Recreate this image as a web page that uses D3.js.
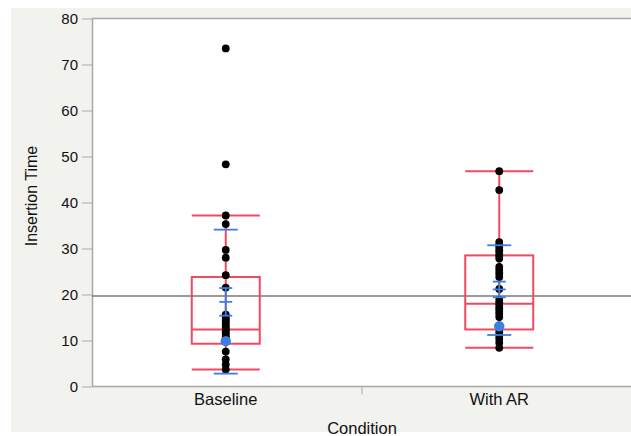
<!DOCTYPE html>
<html>
<head>
<meta charset="utf-8">
<script src="https://d3js.org/d3.v7.min.js"></script>
<style>
  body { margin: 0; background: #fff; }
  text { font-family: "Liberation Sans", Arial, sans-serif; fill: #111; }
</style>
</head>
<body>
<svg id="chart" width="631" height="436"></svg>
<script>
// categories
var conditions = ["Baseline", "With AR"];

// raw points (black dots)
var baselinePts = [73.5, 48.3, 37.2, 35.3, 29.7, 28.0, 24.2, 21.5, 15.6, 15.1, 14.7, 14.3, 13.9,
  13.4, 13.0, 12.6, 12.2, 11.8, 11.4, 11.0, 10.6, 10.2, 7.6, 5.9, 4.8, 3.7];
var withARPts = [46.8, 42.7, 31.4, 30.8, 30.2, 29.6, 29.0, 28.4, 27.8, 26.0, 25.3, 24.6, 23.8,
  21.2, 18.8, 18.2, 17.6, 17.0, 16.4, 15.8, 15.1, 11.8, 11.0, 10.3, 9.5, 8.4];
// highlighted (blue) points
var highlightPts = [9.85, 13.1];

// box plot summaries: [whisker lo, q1, median, q3, whisker hi]
var boxStats = [[3.7, 9.3, 12.4, 23.8, 37.2], [8.4, 12.4, 18.0, 28.5, 46.8]];
// mean, std error bounds, std dev bounds
var means = [18.4, 21.1];
var seLo = [15.4, 19.4];
var seHi = [21.4, 22.8];
var sdLo = [2.8, 11.2];
var sdHi = [34.1, 30.7];
var grandMean = 19.7;

var yTicks = [0, 10, 20, 30, 40, 50, 60, 70, 80];

var svg = d3.select("#chart");
// note: "top" clashes with window.top, so plot edges get their own names
var plotLeft = 92, plotTop = 18.5, plotBottom = 386.5, plotRight = 631;

var y = d3.scaleLinear().domain([0, 80]).range([plotBottom, plotTop]);
var x = d3.scalePoint().domain(conditions).range([89, 636]).padding(0.5);

var red = "#ee4a60", blue = "#3b7fe0";

// panel background
svg.append("rect").attr("x", 11).attr("y", 8).attr("width", 620).attr("height", 424).attr("fill", "#f2f2ee");
svg.append("rect").attr("x", plotLeft).attr("y", plotTop)
  .attr("width", plotRight - plotLeft).attr("height", plotBottom - plotTop).attr("fill", "#fff");

// frame top / bottom
svg.append("line").attr("x1", plotLeft).attr("x2", plotRight).attr("y1", plotTop).attr("y2", plotTop)
  .attr("stroke", "#a8a8a8").attr("stroke-width", 1.5);
svg.append("line").attr("x1", plotLeft).attr("x2", plotRight).attr("y1", plotBottom).attr("y2", plotBottom)
  .attr("stroke", "#a8a8a8").attr("stroke-width", 1.5);

// y axis
var yAxis = svg.append("g").attr("transform", "translate(" + plotLeft + ",0)")
  .call(d3.axisLeft(y).tickValues(yTicks).tickSize(10).tickSizeOuter(0).tickPadding(4));
yAxis.select(".domain").attr("stroke", "#a8a8a8").attr("stroke-width", 1.5);
yAxis.selectAll(".tick line").attr("stroke", "#a8a8a8");
yAxis.selectAll(".tick text").style("font-size", "15px").attr("fill", "#111")
  .style("font-family", "'Liberation Sans', Arial, sans-serif");

// x divider tick between categories
svg.append("line").attr("x1", 362).attr("x2", 362).attr("y1", plotBottom).attr("y2", plotBottom + 8)
  .attr("stroke", "#a8a8a8");

// x labels
svg.selectAll(".xlab").data(conditions).enter().append("text")
  .attr("class", "xlab")
  .attr("x", function(d){ return x(d); })
  .attr("y", 405)
  .attr("text-anchor", "middle")
  .style("font-size", "16.5px")
  .text(function(d){ return d; });

svg.append("text").attr("x", 362).attr("y", 434).attr("text-anchor", "middle")
  .style("font-size", "16.5px").text("Condition");

svg.append("text")
  .attr("transform", "translate(37,196) rotate(-90)")
  .attr("text-anchor", "middle")
  .style("font-size", "16px")
  .text("Insertion Time");

// grand mean line
svg.append("line").attr("x1", plotLeft).attr("x2", plotRight)
  .attr("y1", y(grandMean)).attr("y2", y(grandMean))
  .attr("stroke", "#7a7a7a").attr("stroke-width", 1.5);

var boxW = 68, capW = 68, sdW = 24, seW = 13;

// box plots
var box = svg.selectAll(".box").data(conditions).enter().append("g").attr("class", "box");
box.each(function(d, i){
  var g = d3.select(this), cx = x(d), s = boxStats[i];
  g.append("line").attr("x1", cx).attr("x2", cx).attr("y1", y(s[0])).attr("y2", y(s[4]))
    .attr("stroke", red).attr("stroke-width", 2);
  g.append("rect").attr("x", cx - boxW / 2).attr("y", y(s[3]))
    .attr("width", boxW).attr("height", y(s[1]) - y(s[3]))
    .attr("fill", "none").attr("stroke", red).attr("stroke-width", 2);
  g.append("line").attr("x1", cx - boxW / 2).attr("x2", cx + boxW / 2)
    .attr("y1", y(s[2])).attr("y2", y(s[2])).attr("stroke", red).attr("stroke-width", 2);
  [s[0], s[4]].forEach(function(v){
    g.append("line").attr("x1", cx - capW / 2).attr("x2", cx + capW / 2)
      .attr("y1", y(v)).attr("y2", y(v)).attr("stroke", red).attr("stroke-width", 2);
  });
});

// points
var allPts = [baselinePts, withARPts];
allPts.forEach(function(pts, i){
  svg.append("g").selectAll("circle").data(pts).enter().append("circle")
    .attr("cx", x(conditions[i]))
    .attr("cy", function(v){ return y(v); })
    .attr("r", 3.9)
    .attr("fill", "#000");
});

// mean, std error and std dev lines
conditions.forEach(function(d, i){
  var cx = x(d);
  svg.append("line").attr("x1", cx).attr("x2", cx).attr("y1", y(seLo[i])).attr("y2", y(seHi[i]))
    .attr("stroke", blue).attr("stroke-width", 1.8);
  [seLo[i], means[i], seHi[i]].forEach(function(v){
    svg.append("line").attr("x1", cx - seW / 2).attr("x2", cx + seW / 2)
      .attr("y1", y(v)).attr("y2", y(v)).attr("stroke", blue).attr("stroke-width", 1.8);
  });
  [sdLo[i], sdHi[i]].forEach(function(v){
    svg.append("line").attr("x1", cx - sdW / 2).attr("x2", cx + sdW / 2)
      .attr("y1", y(v)).attr("y2", y(v)).attr("stroke", blue).attr("stroke-width", 1.8);
  });
});

// highlighted points
svg.append("g").selectAll("circle").data(highlightPts).enter().append("circle")
  .attr("cx", function(v, i){ return x(conditions[i]); })
  .attr("cy", function(v){ return y(v); })
  .attr("r", 5.2)
  .attr("fill", blue);
</script>
</body>
</html>
